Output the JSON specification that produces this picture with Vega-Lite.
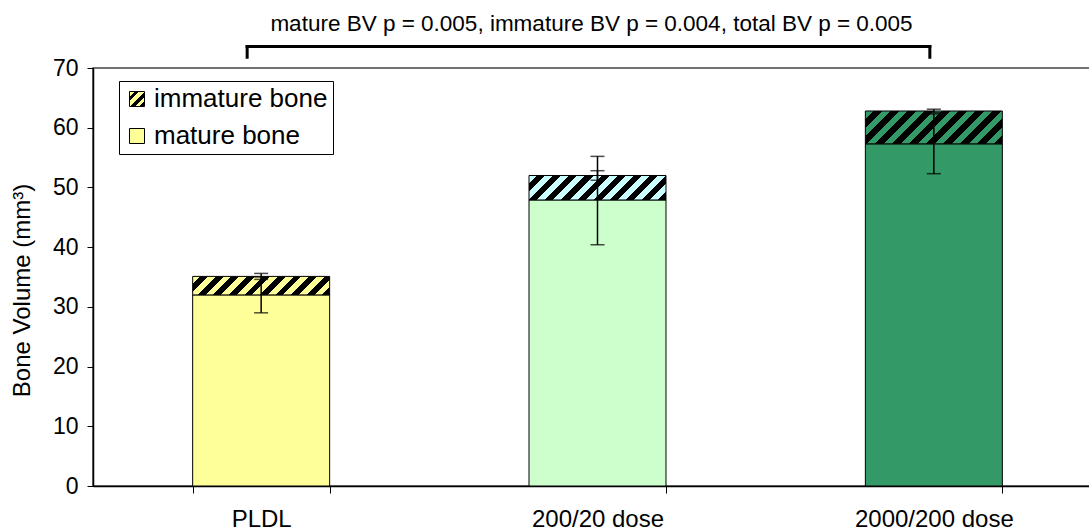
{
  "$schema": "https://vega.github.io/schema/vega-lite/v6.json",
  "autosize": "none",
  "width": 998,
  "height": 418,
  "padding": {"left": 93, "top": 68, "right": -2, "bottom": 45},
  "background": "white",
  "config": {
    "font": "Liberation Sans",
    "view": {"stroke": "#444444", "strokeWidth": 1.5},
    "axis": {"grid": false, "domainColor": "black", "domainWidth": 1.5, "tickColor": "black", "labelColor": "black", "titleColor": "black", "labelFont": "Liberation Sans", "titleFont": "Liberation Sans"},
    "axisX": {"labelFontSize": 24, "labelPadding": 14, "tickSize": 7, "labelAngle": 0},
    "axisY": {"labelFontSize": 23, "titleFontSize": 24, "titleFontWeight": "normal", "tickSize": 6, "labelPadding": 9, "titlePadding": 18, "titleY": 222}
  },
  "datasets": {
    "bars": [
      {"group": "PLDL", "type": "mature bone", "ord": 1, "value": 32.0},
      {"group": "PLDL", "type": "immature bone", "ord": 2, "value": 3.1},
      {"group": "200/20 dose", "type": "mature bone", "ord": 1, "value": 47.9},
      {"group": "200/20 dose", "type": "immature bone", "ord": 2, "value": 4.1},
      {"group": "2000/200 dose", "type": "mature bone", "ord": 1, "value": 57.3},
      {"group": "2000/200 dose", "type": "immature bone", "ord": 2, "value": 5.5}
    ],
    "errors": [
      {"group": "PLDL", "measure": "mature", "lo": 29.0, "hi": 35.0},
      {"group": "PLDL", "measure": "total", "lo": 34.6, "hi": 35.6},
      {"group": "200/20 dose", "measure": "mature", "lo": 40.4, "hi": 55.2},
      {"group": "200/20 dose", "measure": "total", "lo": 51.2, "hi": 52.8},
      {"group": "2000/200 dose", "measure": "mature", "lo": 52.3, "hi": 62.3},
      {"group": "2000/200 dose", "measure": "total", "lo": 62.5, "hi": 63.1}
    ],
    "bracket": [
      {"from": "PLDL", "to": "2000/200 dose", "level": 73.6, "foot": 71.8}
    ],
    "note": [
      {"group": "200/20 dose", "level": 76.2, "label": "mature BV p = 0.005, immature BV p = 0.004, total BV p = 0.005"}
    ]
  },
  "encoding": {
    "x": {
      "field": "group", "type": "nominal",
      "sort": ["PLDL", "200/20 dose", "2000/200 dose"],
      "scale": {"domain": ["PLDL", "200/20 dose", "2000/200 dose"], "range": [0, 1009], "paddingInner": 0.5927, "paddingOuter": 0.2963},
      "axis": {"title": null, "tickBand": "extent"}
    }
  },
  "layer": [
    {
      "data": {"name": "bars"},
      "mark": {"type": "bar", "opacity": 0, "stroke": "black", "strokeWidth": 1},
      "encoding": {
        "y": {
          "field": "value", "type": "quantitative", "stack": "zero",
          "scale": {"domain": [0, 70], "nice": false, "zero": true},
          "axis": {"title": "Bone Volume (mm³)", "values": [0, 10, 20, 30, 40, 50, 60, 70]}
        },
        "order": {"field": "ord", "type": "quantitative"},
        "fill": {
          "field": "type", "type": "nominal",
          "scale": {
            "domain": ["immature bone", "mature bone"],
            "range": [
              {"expr": "{gradient: 'linear', x1: 0, y1: 0, x2: 1, y2: 1, stops: [{offset: 0, color: '#ffff99'}, {offset: 0.1667, color: '#ffff99'}, {offset: 0.1667, color: 'black'}, {offset: 0.3333, color: 'black'}, {offset: 0.3333, color: '#ffff99'}, {offset: 0.5, color: '#ffff99'}, {offset: 0.5, color: 'black'}, {offset: 0.6667, color: 'black'}, {offset: 0.6667, color: '#ffff99'}, {offset: 0.8333, color: '#ffff99'}, {offset: 0.8333, color: 'black'}, {offset: 1, color: 'black'}]}"},
              "#ffff99"
            ]
          },
          "legend": {
            "title": null, "orient": "none", "legendX": 26, "legendY": 13,
            "padding": 5, "strokeColor": "black", "fillColor": "white",
            "labelFontSize": 26, "labelColor": "black", "labelOffset": 4, "labelLimit": 0,
            "symbolType": "square", "symbolSize": 225, "symbolOpacity": 1,
            "symbolStrokeColor": "black", "symbolStrokeWidth": 1, "rowPadding": 11
          }
        }
      }
    },
    {
      "data": {"name": "bars"},
      "mark": {"type": "bar", "stroke": "black", "strokeWidth": 1},
      "encoding": {
        "y": {"field": "value", "type": "quantitative", "stack": "zero"},
        "order": {"field": "ord", "type": "quantitative"},
        "detail": {"field": "type"},
        "fill": {
          "condition": [
            {"test": "datum.group === 'PLDL' && datum.type === 'mature bone'", "value": "#ffff99"},
            {"test": "datum.group === '200/20 dose' && datum.type === 'mature bone'", "value": "#ccffcc"},
            {"test": "datum.group === '2000/200 dose' && datum.type === 'mature bone'", "value": "#339966"},
            {"test": "datum.group === 'PLDL'", "value": {"gradient": "linear", "x1": 0, "y1": 0, "x2": 1.115, "y2": 0.1506, "stops": [
              {"offset": 0, "color": "#ffff99"}, {"offset": 0.05, "color": "#ffff99"}, {"offset": 0.05, "color": "black"}, {"offset": 0.1, "color": "black"},
              {"offset": 0.1, "color": "#ffff99"}, {"offset": 0.15, "color": "#ffff99"}, {"offset": 0.15, "color": "black"}, {"offset": 0.2, "color": "black"},
              {"offset": 0.2, "color": "#ffff99"}, {"offset": 0.25, "color": "#ffff99"}, {"offset": 0.25, "color": "black"}, {"offset": 0.3, "color": "black"},
              {"offset": 0.3, "color": "#ffff99"}, {"offset": 0.35, "color": "#ffff99"}, {"offset": 0.35, "color": "black"}, {"offset": 0.4, "color": "black"},
              {"offset": 0.4, "color": "#ffff99"}, {"offset": 0.45, "color": "#ffff99"}, {"offset": 0.45, "color": "black"}, {"offset": 0.5, "color": "black"},
              {"offset": 0.5, "color": "#ffff99"}, {"offset": 0.55, "color": "#ffff99"}, {"offset": 0.55, "color": "black"}, {"offset": 0.6, "color": "black"},
              {"offset": 0.6, "color": "#ffff99"}, {"offset": 0.65, "color": "#ffff99"}, {"offset": 0.65, "color": "black"}, {"offset": 0.7, "color": "black"},
              {"offset": 0.7, "color": "#ffff99"}, {"offset": 0.75, "color": "#ffff99"}, {"offset": 0.75, "color": "black"}, {"offset": 0.8, "color": "black"},
              {"offset": 0.8, "color": "#ffff99"}, {"offset": 0.85, "color": "#ffff99"}, {"offset": 0.85, "color": "black"}, {"offset": 0.9, "color": "black"},
              {"offset": 0.9, "color": "#ffff99"}, {"offset": 0.95, "color": "#ffff99"}, {"offset": 0.95, "color": "black"}, {"offset": 1, "color": "black"}
            ]}},
            {"test": "datum.group === '200/20 dose'", "value": {"gradient": "linear", "x1": 0, "y1": 0, "x2": 1.142, "y2": 0.2043, "stops": [
              {"offset": 0, "color": "#ccffff"}, {"offset": 0.05, "color": "#ccffff"}, {"offset": 0.05, "color": "black"}, {"offset": 0.1, "color": "black"},
              {"offset": 0.1, "color": "#ccffff"}, {"offset": 0.15, "color": "#ccffff"}, {"offset": 0.15, "color": "black"}, {"offset": 0.2, "color": "black"},
              {"offset": 0.2, "color": "#ccffff"}, {"offset": 0.25, "color": "#ccffff"}, {"offset": 0.25, "color": "black"}, {"offset": 0.3, "color": "black"},
              {"offset": 0.3, "color": "#ccffff"}, {"offset": 0.35, "color": "#ccffff"}, {"offset": 0.35, "color": "black"}, {"offset": 0.4, "color": "black"},
              {"offset": 0.4, "color": "#ccffff"}, {"offset": 0.45, "color": "#ccffff"}, {"offset": 0.45, "color": "black"}, {"offset": 0.5, "color": "black"},
              {"offset": 0.5, "color": "#ccffff"}, {"offset": 0.55, "color": "#ccffff"}, {"offset": 0.55, "color": "black"}, {"offset": 0.6, "color": "black"},
              {"offset": 0.6, "color": "#ccffff"}, {"offset": 0.65, "color": "#ccffff"}, {"offset": 0.65, "color": "black"}, {"offset": 0.7, "color": "black"},
              {"offset": 0.7, "color": "#ccffff"}, {"offset": 0.75, "color": "#ccffff"}, {"offset": 0.75, "color": "black"}, {"offset": 0.8, "color": "black"},
              {"offset": 0.8, "color": "#ccffff"}, {"offset": 0.85, "color": "#ccffff"}, {"offset": 0.85, "color": "black"}, {"offset": 0.9, "color": "black"},
              {"offset": 0.9, "color": "#ccffff"}, {"offset": 0.95, "color": "#ccffff"}, {"offset": 0.95, "color": "black"}, {"offset": 1, "color": "black"}
            ]}}
          ],
          "value": {"gradient": "linear", "x1": 0, "y1": 0, "x2": 1.172, "y2": 0.2806, "stops": [
            {"offset": 0, "color": "#339966"}, {"offset": 0.05, "color": "#339966"}, {"offset": 0.05, "color": "black"}, {"offset": 0.1, "color": "black"},
            {"offset": 0.1, "color": "#339966"}, {"offset": 0.15, "color": "#339966"}, {"offset": 0.15, "color": "black"}, {"offset": 0.2, "color": "black"},
            {"offset": 0.2, "color": "#339966"}, {"offset": 0.25, "color": "#339966"}, {"offset": 0.25, "color": "black"}, {"offset": 0.3, "color": "black"},
            {"offset": 0.3, "color": "#339966"}, {"offset": 0.35, "color": "#339966"}, {"offset": 0.35, "color": "black"}, {"offset": 0.4, "color": "black"},
            {"offset": 0.4, "color": "#339966"}, {"offset": 0.45, "color": "#339966"}, {"offset": 0.45, "color": "black"}, {"offset": 0.5, "color": "black"},
            {"offset": 0.5, "color": "#339966"}, {"offset": 0.55, "color": "#339966"}, {"offset": 0.55, "color": "black"}, {"offset": 0.6, "color": "black"},
            {"offset": 0.6, "color": "#339966"}, {"offset": 0.65, "color": "#339966"}, {"offset": 0.65, "color": "black"}, {"offset": 0.7, "color": "black"},
            {"offset": 0.7, "color": "#339966"}, {"offset": 0.75, "color": "#339966"}, {"offset": 0.75, "color": "black"}, {"offset": 0.8, "color": "black"},
            {"offset": 0.8, "color": "#339966"}, {"offset": 0.85, "color": "#339966"}, {"offset": 0.85, "color": "black"}, {"offset": 0.9, "color": "black"},
            {"offset": 0.9, "color": "#339966"}, {"offset": 0.95, "color": "#339966"}, {"offset": 0.95, "color": "black"}, {"offset": 1, "color": "black"}
          ]}
        }
      }
    },
    {
      "data": {"name": "errors"},
      "mark": {"type": "rule", "color": "black", "strokeWidth": 1.5},
      "encoding": {
        "y": {"field": "lo", "type": "quantitative"},
        "y2": {"field": "hi"}
      }
    },
    {
      "data": {"name": "errors"},
      "mark": {"type": "tick", "color": "black", "size": 14, "thickness": 1.5, "orient": "horizontal"},
      "encoding": {"y": {"field": "lo", "type": "quantitative"}}
    },
    {
      "data": {"name": "errors"},
      "mark": {"type": "tick", "color": "black", "size": 14, "thickness": 1.5, "orient": "horizontal"},
      "encoding": {"y": {"field": "hi", "type": "quantitative"}}
    },
    {
      "data": {"name": "bracket"},
      "mark": {"type": "rule", "color": "black", "strokeWidth": 3, "xOffset": -14, "x2Offset": -4, "strokeCap": "square"},
      "encoding": {
        "x": {"field": "from", "type": "nominal"},
        "x2": {"field": "to"},
        "y": {"field": "level", "type": "quantitative"}
      }
    },
    {
      "data": {"name": "bracket"},
      "mark": {"type": "rule", "color": "black", "strokeWidth": 3, "xOffset": -14, "strokeCap": "square"},
      "encoding": {
        "x": {"field": "from", "type": "nominal"},
        "y": {"field": "level", "type": "quantitative"},
        "y2": {"field": "foot"}
      }
    },
    {
      "data": {"name": "bracket"},
      "mark": {"type": "rule", "color": "black", "strokeWidth": 3, "xOffset": -4, "strokeCap": "square"},
      "encoding": {
        "x": {"field": "to", "type": "nominal"},
        "y": {"field": "level", "type": "quantitative"},
        "y2": {"field": "foot"}
      }
    },
    {
      "data": {"name": "note"},
      "mark": {"type": "text", "font": "Liberation Sans", "fontSize": 22.5, "color": "black", "baseline": "alphabetic", "align": "center", "dx": -6},
      "encoding": {
        "y": {"field": "level", "type": "quantitative"},
        "text": {"field": "label"}
      }
    }
  ]
}
